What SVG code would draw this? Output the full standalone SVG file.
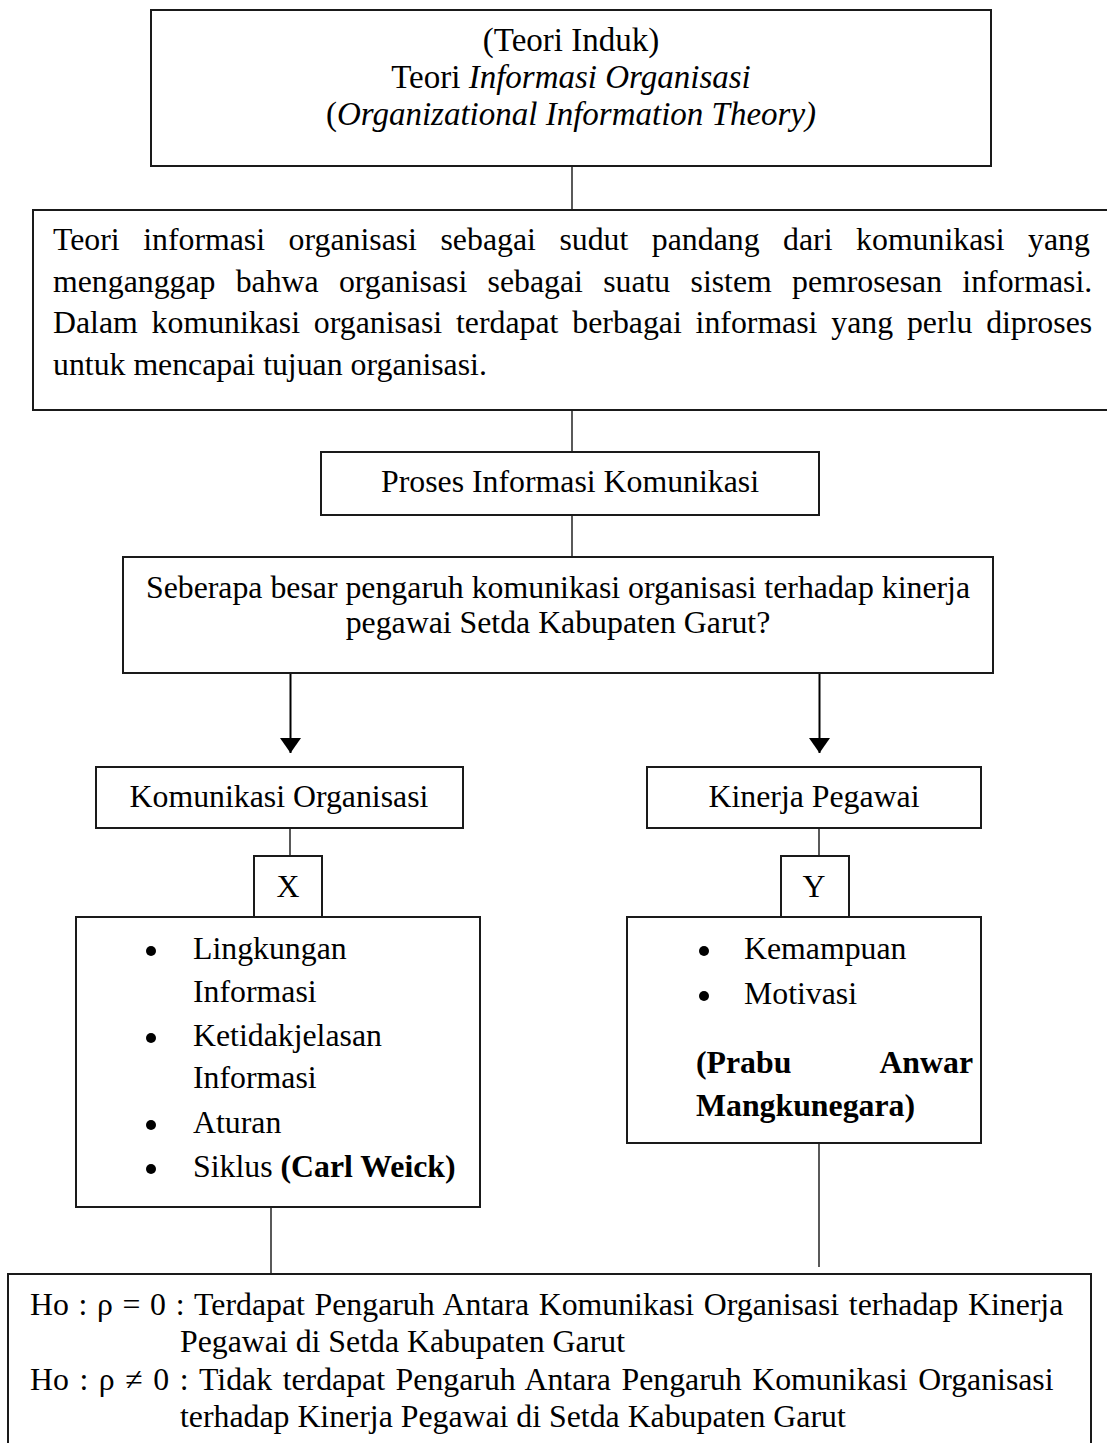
<svg xmlns="http://www.w3.org/2000/svg" width="1107" height="1443" viewBox="0 0 1107 1443">
<style>
  .box { fill: #fff; stroke: #1a1a1a; stroke-width: 2; }
  .t { font-family: "Liberation Serif", "Times New Roman", serif; font-size: 31.8px; fill: #000; }
  .tt { font-family: "Liberation Serif", "Times New Roman", serif; font-size: 33px; fill: #000; }
  .c { text-anchor: middle; }
  .e { text-anchor: end; }
  .i { font-style: italic; }
  .b { font-weight: bold; }
  .ln { stroke: #000; stroke-width: 1.3; fill: none; }
  .ar { stroke: #000; stroke-width: 2; fill: none; }
  .dot { fill: #000; }
</style>
<defs>
  <marker id="ah" viewBox="0 0 15 21" refX="15" refY="10.5" markerWidth="15" markerHeight="21" markerUnits="userSpaceOnUse" orient="auto">
    <path d="M0,0 L15,10.5 L0,21 z" fill="#000"/>
  </marker>
</defs>
<rect width="1107" height="1443" fill="#fff"/>

<g id="connectors">
  <line class="ln" x1="572" y1="166" x2="572" y2="210"/>
  <line class="ln" x1="572" y1="410" x2="572" y2="452"/>
  <line class="ln" x1="572" y1="515" x2="572" y2="557"/>
  <line class="ar" x1="290.5" y1="673" x2="290.5" y2="753" marker-end="url(#ah)"/>
  <line class="ar" x1="819.5" y1="673" x2="819.5" y2="753" marker-end="url(#ah)"/>
  <line class="ln" x1="290" y1="828" x2="290" y2="856"/>
  <line class="ln" x1="819" y1="828" x2="819" y2="856"/>
  <line class="ln" x1="271" y1="1207" x2="271" y2="1274"/>
  <line class="ln" x1="819" y1="1143" x2="819" y2="1267"/>
</g>

<g id="teori-induk">
  <rect class="box" x="151" y="10" width="840" height="156"/>
  <text class="tt c" x="571" y="51">(Teori Induk)</text>
  <text class="tt c" x="571" y="88">Teori <tspan class="i">Informasi Organisasi</tspan></text>
  <text class="tt c" x="571" y="125">(<tspan class="i">Organizational Information Theory)</tspan></text>
</g>

<g id="definisi">
  <rect class="box" x="33" y="210" width="1100" height="200"/>
  <text class="t" x="53" y="250" style="word-spacing:15.6px">Teori informasi organisasi sebagai sudut pandang dari komunikasi yang</text>
  <text class="t" x="53" y="292" style="word-spacing:12.3px">menganggap bahwa organisasi sebagai suatu sistem pemrosesan informasi.</text>
  <text class="t" x="53" y="333" style="word-spacing:5.9px">Dalam komunikasi organisasi terdapat berbagai informasi yang perlu diproses</text>
  <text class="t" x="53" y="375">untuk mencapai tujuan organisasi.</text>
</g>

<g id="proses">
  <rect class="box" x="321" y="452" width="498" height="63"/>
  <text class="t c" x="570" y="492">Proses Informasi Komunikasi</text>
</g>

<g id="pertanyaan">
  <rect class="box" x="123" y="557" width="870" height="116"/>
  <text class="t c" x="558" y="598">Seberapa besar pengaruh komunikasi organisasi terhadap kinerja</text>
  <text class="t c" x="558" y="633">pegawai Setda Kabupaten Garut?</text>
</g>

<g id="komunikasi-organisasi">
  <rect class="box" x="96" y="767" width="367" height="61"/>
  <text class="t c" x="279" y="807">Komunikasi Organisasi</text>
</g>

<g id="kinerja-pegawai">
  <rect class="box" x="647" y="767" width="334" height="61"/>
  <text class="t c" x="814" y="807">Kinerja Pegawai</text>
</g>

<g id="x">
  <rect class="box" x="254" y="856" width="68" height="61"/>
  <text class="t c" x="288" y="897">X</text>
</g>

<g id="y">
  <rect class="box" x="781" y="856" width="68" height="61"/>
  <text class="t c" x="814" y="897">Y</text>
</g>

<g id="indikator-x">
  <rect class="box" x="76" y="917" width="404" height="290"/>
  <circle class="dot" cx="151" cy="951" r="5"/>
  <text class="t" x="193" y="959">Lingkungan</text>
  <text class="t" x="193" y="1002">Informasi</text>
  <circle class="dot" cx="151" cy="1038" r="5"/>
  <text class="t" x="193" y="1046">Ketidakjelasan</text>
  <text class="t" x="193" y="1088">Informasi</text>
  <circle class="dot" cx="151" cy="1125" r="5"/>
  <text class="t" x="193" y="1133">Aturan</text>
  <circle class="dot" cx="151" cy="1169" r="5"/>
  <text class="t" x="193" y="1177">Siklus <tspan class="b">(Carl Weick)</tspan></text>
</g>

<g id="indikator-y">
  <rect class="box" x="627" y="917" width="354" height="226"/>
  <circle class="dot" cx="704" cy="951" r="5"/>
  <text class="t" x="744" y="959">Kemampuan</text>
  <circle class="dot" cx="704" cy="996" r="5"/>
  <text class="t" x="744" y="1004">Motivasi</text>
  <text class="t b" x="696" y="1073">(Prabu</text>
  <text class="t b e" x="973" y="1073">Anwar</text>
  <text class="t b" x="696" y="1116">Mangkunegara)</text>
</g>

<g id="hipotesis">
  <rect class="box" x="8" y="1274" width="1083" height="200"/>
  <text class="t" x="30" y="1315" style="word-spacing:1.7px">Ho : ρ = 0 : Terdapat Pengaruh Antara Komunikasi Organisasi terhadap Kinerja</text>
  <text class="t" x="180" y="1352">Pegawai di Setda Kabupaten Garut</text>
  <text class="t" x="30" y="1390" style="word-spacing:2.6px">Ho : ρ ≠ 0 : Tidak terdapat Pengaruh Antara Pengaruh Komunikasi Organisasi</text>
  <text class="t" x="180" y="1427">terhadap Kinerja Pegawai di Setda Kabupaten Garut</text>
</g>
</svg>
